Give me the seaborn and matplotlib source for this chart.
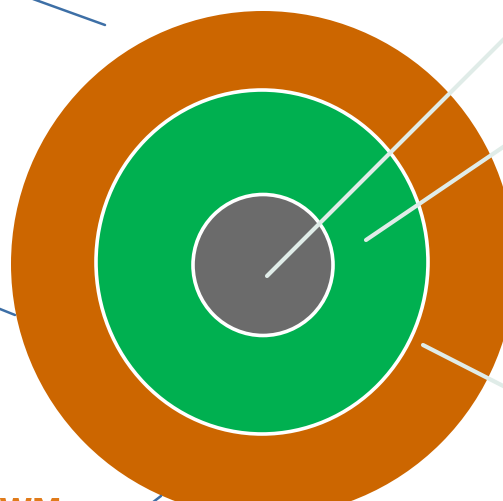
import matplotlib
matplotlib.use("Agg")
import matplotlib.pyplot as plt
import seaborn as sns
import pandas as pd
from matplotlib.patches import Ellipse

# ---- data ----
ring_names = ["outer", "middle", "inner"]
ring_radius_x = [252, 166, 70]
ring_radius_y = [253, 172, 70.5]
ring_center_x = [263, 262, 263]
ring_center_y = [265, 263, 266]
ring_colors = ["#CC6600", "#00B050", "#6B6B6B"]

leader_x0 = [267, 366, 423]
leader_y0 = [277, 241, 346]
leader_x1 = [515, 515, 515]
leader_y1 = [29, 140, 393]

blue_x0 = [33, -5, 148]
blue_y0 = [0, 308, 507]
blue_x1 = [105, 15, 161]
blue_y1 = [26, 316, 497]

label_text = "WM"

sns.set_theme(style="white")
fig = plt.figure(figsize=(5.03, 5.02), dpi=100)
ax = fig.add_axes([0, 0, 1, 1])

for i, (cx, cy, rx, ry, c) in enumerate(zip(ring_center_x, ring_center_y,
                                            ring_radius_x, ring_radius_y,
                                            ring_colors)):
    ax.add_patch(Ellipse((cx, cy), 2 * rx, 2 * ry, facecolor=c,
                         edgecolor="white" if i > 0 else "none",
                         linewidth=2.6, zorder=1 + i))

for x0, y0, x1, y1 in zip(leader_x0, leader_y0, leader_x1, leader_y1):
    df = pd.DataFrame({"x": [x0, x1], "y": [y0, y1]})
    sns.lineplot(data=df, x="x", y="y", sort=False, estimator=None, ax=ax,
                 color="#E0ECE8", linewidth=3.0, zorder=10,
                 solid_capstyle="round")

for x0, y0, x1, y1 in zip(blue_x0, blue_y0, blue_x1, blue_y1):
    df = pd.DataFrame({"x": [x0, x1], "y": [y0, y1]})
    sns.lineplot(data=df, x="x", y="y", sort=False, estimator=None, ax=ax,
                 color="#3D6FA6", linewidth=1.8, zorder=10)

ax.set_xlim(0, 503)
ax.set_ylim(502, 0)
ax.set_aspect("equal")
ax.axis("off")
ax.text(-2, 497, label_text, color="#E07B1A", fontsize=22, fontweight="bold",
        ha="left", va="top", clip_on=False, zorder=11)

fig.savefig("out.png", dpi=100)
